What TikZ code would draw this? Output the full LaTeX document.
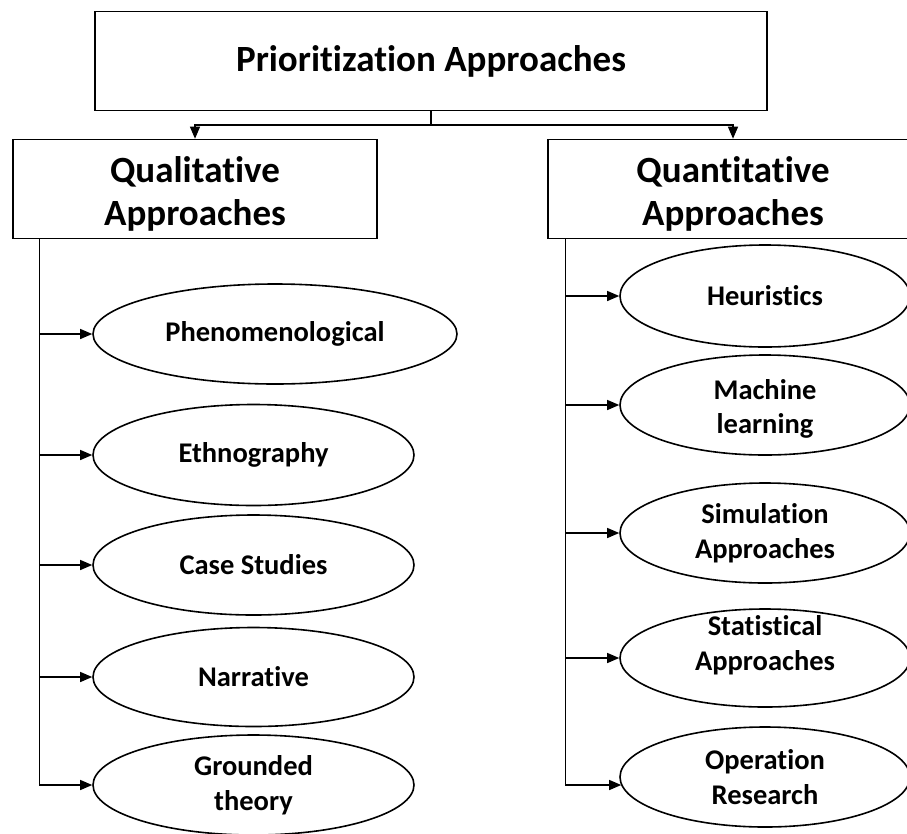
\documentclass[tikz,border=0pt]{standalone}
\usepackage{fontspec}
\setmainfont{Carlito}[Ligatures=NoCommon]
\usetikzlibrary{shapes.geometric,arrows.meta}
\begin{document}
\begin{tikzpicture}[x=1pt,y=-1pt,
  box/.style={draw,line width=1.6pt,inner sep=0pt,align=center,font=\fontsize{37}{43}\selectfont\bfseries},
  boxlbl/.style={inner sep=0pt,align=center,font=\fontsize{37}{43}\selectfont\bfseries},
  oval/.style={draw,ellipse,line width=1.6pt,inner sep=0pt,align=center,font=\fontsize{28.5}{34.5}\selectfont\bfseries},
  lbl/.style={inner sep=0pt,align=center,font=\fontsize{28.5}{34.5}\selectfont\bfseries},
  link/.style={line width=1.3pt},
  trunk/.style={line width=1pt},
  arr/.style={line width=1.2pt,-{Triangle[length=12pt,width=10pt]}}]
\useasboundingbox (0,0) rectangle (907,833);

% boxes
\node[box,minimum width=672pt,minimum height=99pt] (top) at (431,61) {Prioritization Approaches};
\node[box,minimum width=364pt,minimum height=99pt] (qual) at (195,189) {};
\node[boxlbl] (qualT) at (195,194) {Qualitative\\Approaches};
\node[box,minimum width=370pt,minimum height=99pt] (quan) at (733,189) {};
\node[boxlbl] (quanT) at (733,194) {Quantitative\\Approaches};

\coordinate (j) at (431,125);
\draw[link] (top.south) -- (j);
\draw[arr] (j) -| (qual.north);
\draw[arr] (j) -| (quan.north);

% left ellipses
\node[oval,minimum width=364pt,minimum height=100pt] (phen) at (275,334) {Phenomenological};
\node[oval,minimum width=321pt,minimum height=101pt] (eth) at (253.5,455) {Ethnography};
\node[oval,minimum width=321pt,minimum height=100pt] (case) at (253.5,565) {Case Studies};
\node[oval,minimum width=321pt,minimum height=99pt] (narr) at (253.5,677) {Narrative};
\node[oval,minimum width=321pt,minimum height=100pt] (grnd) at (253.5,785) {Grounded\\theory};

% right ellipses
\node[oval,minimum width=290pt,minimum height=102pt] (heur) at (765,296) {Heuristics};
\node[oval,minimum width=290pt,minimum height=100pt] (ml) at (765,405) {};
\node[lbl] (mlT) at (765,409) {Machine\\learning};
\node[oval,minimum width=290pt,minimum height=100pt] (sim) at (765,533) {Simulation\\Approaches};
\node[oval,minimum width=290pt,minimum height=98pt] (stat) at (765,658) {};
\node[lbl] (statT) at (765,645) {Statistical\\Approaches};
\node[oval,minimum width=290pt,minimum height=100pt] (opr) at (765,777) {Operation\\Research};

% left trunk
\coordinate (lt) at (39,238);
\coordinate (l1) at (39,334);
\coordinate (l2) at (39,455);
\coordinate (l3) at (39,565);
\coordinate (l4) at (39,677);
\coordinate (l5) at (39,785);
\draw[trunk] (lt) -- (l5);
\draw[arr] (l1) -- (phen);
\draw[arr] (l2) -- (eth);
\draw[arr] (l3) -- (case);
\draw[arr] (l4) -- (narr);
\draw[arr] (l5) -- (grnd);

% right trunk
\coordinate (rt) at (565,238);
\coordinate (r1) at (565,296);
\coordinate (r2) at (565,405);
\coordinate (r3) at (565,533);
\coordinate (r4) at (565,658);
\coordinate (r5) at (565,785);
\draw[trunk] (rt) -- (r5);
\draw[arr] (r1) -- (heur);
\draw[arr] (r2) -- (ml);
\draw[arr] (r3) -- (sim);
\draw[arr] (r4) -- (stat);
\draw[arr] (r5) -- ([xshift=2pt]r5 -| opr.west);
\end{tikzpicture}
\end{document}
